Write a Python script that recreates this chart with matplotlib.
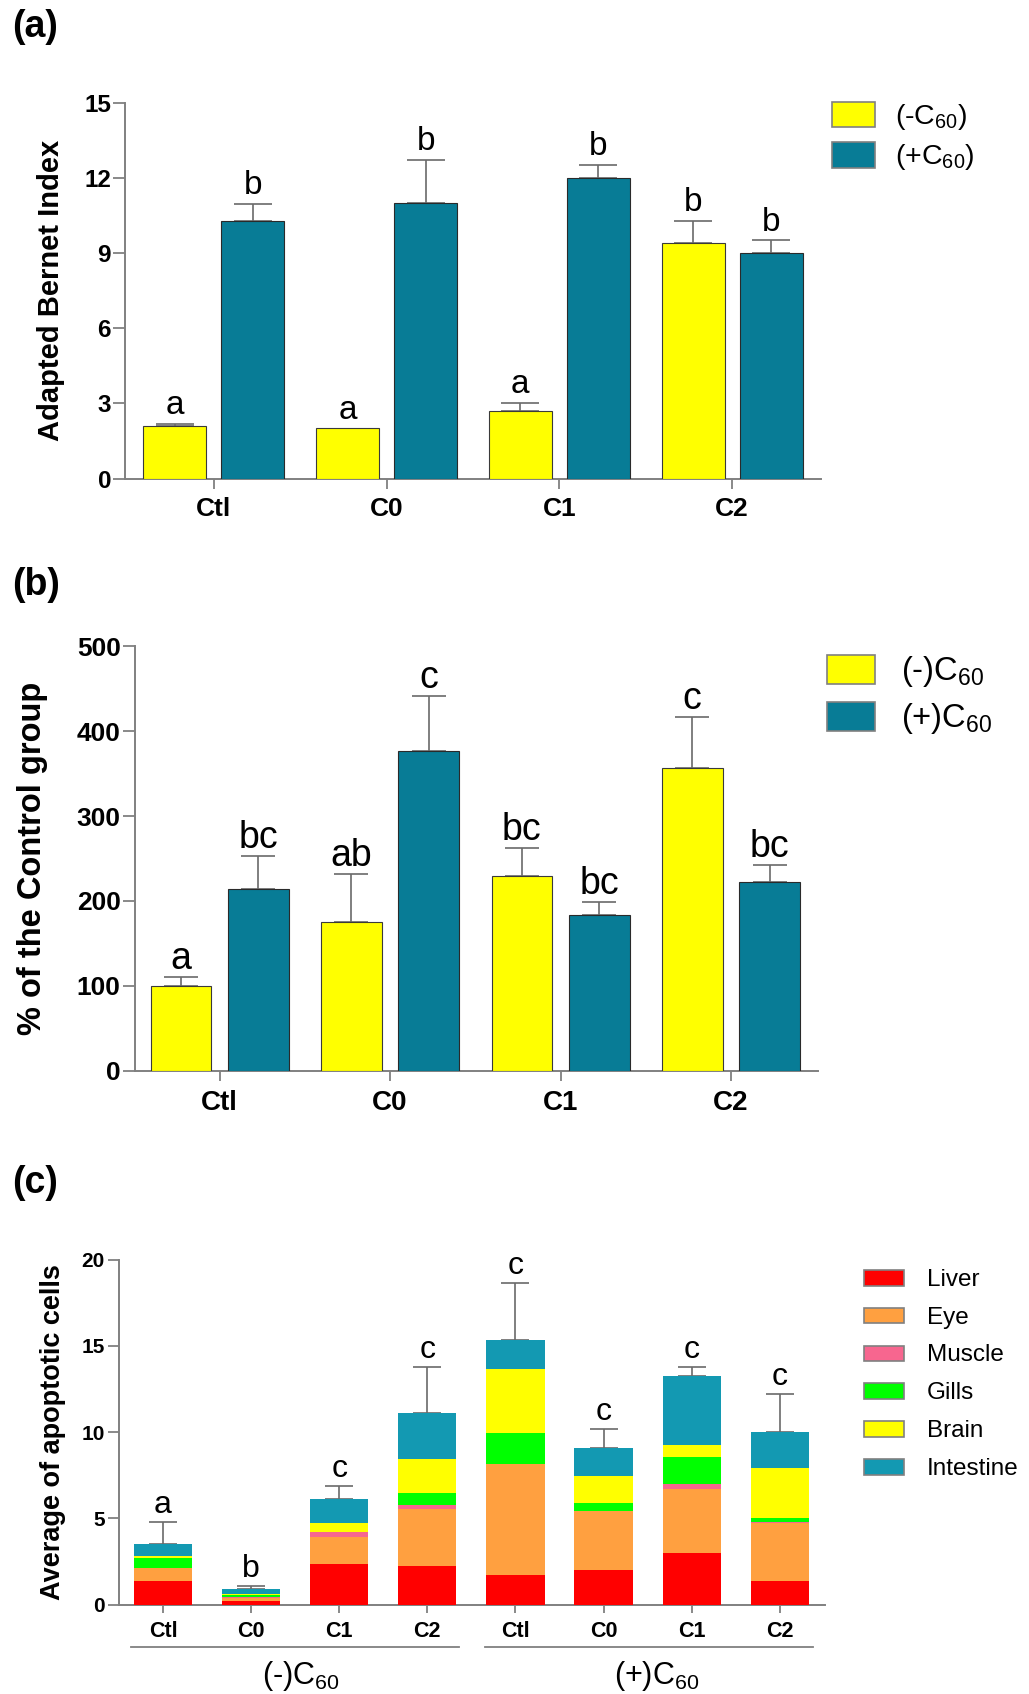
import numpy as np
import matplotlib
matplotlib.use("Agg")
import matplotlib.pyplot as plt
from matplotlib.patches import Rectangle

plt.rcParams['font.family'] = ['Liberation Sans', 'DejaVu Sans']
plt.rcParams['mathtext.fontset'] = 'custom'
plt.rcParams['mathtext.rm'] = 'Liberation Sans'
plt.rcParams['mathtext.it'] = 'Liberation Sans:italic'
plt.rcParams['mathtext.bf'] = 'Liberation Sans:bold'

# ---------------- data ----------------
groups = ['Ctl', 'C0', 'C1', 'C2']

# panel (a) Adapted Bernet Index
a_minus = [2.1, 2.0, 2.7, 9.4]
a_minus_err = [0.07, 0.0, 0.32, 0.88]
a_plus = [10.26, 11.0, 12.0, 9.0]
a_plus_err = [0.69, 1.73, 0.5, 0.5]
a_letters_minus = ['a', 'a', 'a', 'b']
a_letters_plus = ['b', 'b', 'b', 'b']

# panel (b) % of the Control group
b_minus = [100, 175, 230, 357]
b_minus_err = [11, 57, 33, 60]
b_plus = [214, 377, 183, 222]
b_plus_err = [39, 64, 16, 20]
b_letters_minus = ['a', 'ab', 'bc', 'c']
b_letters_plus = ['bc', 'c', 'bc', 'bc']

# panel (c) Average of apoptotic cells (stacked by tissue)
c_labels = ['Ctl', 'C0', 'C1', 'C2', 'Ctl', 'C0', 'C1', 'C2']
c_treat = ['(-)C$_{60}$', '(+)C$_{60}$']
liver = [1.35, 0.20, 2.32, 2.22, 1.70, 2.01, 3.01, 1.35]
eye = [0.79, 0.18, 1.58, 3.33, 6.42, 3.44, 3.68, 3.38]
muscle = [0.0, 0.05, 0.31, 0.23, 0.0, 0.0, 0.29, 0.06]
gills = [0.53, 0.10, 0.0, 0.67, 1.85, 0.44, 1.58, 0.23]
brain = [0.13, 0.10, 0.52, 1.99, 3.69, 1.57, 0.68, 2.88]
intestine = [0.72, 0.25, 1.40, 2.65, 1.66, 1.64, 4.00, 2.13]
c_err = [1.29, 0.22, 0.77, 2.71, 3.35, 1.10, 0.56, 2.20]
c_letters = ['a', 'b', 'c', 'c', 'c', 'c', 'c', 'c']
tissues = ['Liver', 'Eye', 'Muscle', 'Gills', 'Brain', 'Intestine']

# ---------------- style ----------------
YEL = '#FFFF00'
TEAL = '#087C96'
tissue_colors = ['#FF0000', '#FFA040', '#F7668F', '#00FF00', '#FFFF00', '#1399B2']
GRAY = '#808080'
ERRC = '#6A6A6A'

W, H = 1029, 1694
fig = plt.figure(figsize=(W / 100, H / 100), dpi=100)


def rect(l, r, t, b):
    return [l / W, 1 - b / H, (r - l) / W, (b - t) / H]


def style_axes(ax, ylab_size, xlab_size, ylen, xlen, ypad, xpad):
    for s in ['top', 'right']:
        ax.spines[s].set_visible(False)
    for s in ['left', 'bottom']:
        ax.spines[s].set_color(GRAY)
        ax.spines[s].set_linewidth(1.4)
    ax.tick_params(axis='y', direction='out', length=ylen, width=1.3, color=GRAY,
                   labelsize=ylab_size, pad=ypad)
    ax.tick_params(axis='x', direction='out', length=xlen, width=1.3, color=GRAY,
                   labelsize=xlab_size, pad=xpad)
    plt.setp(ax.get_yticklabels(), fontweight='bold')
    plt.setp(ax.get_xticklabels(), fontweight='bold')


def legend_box(x0, x1, y0, y1, color, text, tx, fs):
    fig.add_artist(Rectangle((x0 / W, 1 - y1 / H), (x1 - x0) / W, (y1 - y0) / H,
                             transform=fig.transFigure, facecolor=color,
                             edgecolor=GRAY, linewidth=1.2))
    fig.text(tx / W, 1 - ((y0 + y1) / 2 + 2) / H, text, fontsize=fs, ha='left', va='center')


def grouped(ax, minus, minus_err, plus, plus_err, lm, lp, off, width, cap, lfs, loff):
    x = np.arange(len(groups))
    ax.bar(x - off, minus, width, color=YEL, edgecolor='#3a3a3a', linewidth=0.8, zorder=3)
    ax.bar(x + off, plus, width, color=TEAL, edgecolor='#2a2a2a', linewidth=0.8, zorder=3)
    for xs, v, e in [(x - off, minus, minus_err), (x + off, plus, plus_err)]:
        v = np.asarray(v, float)
        e = np.asarray(e, float)
        m = e > 0
        ax.errorbar(xs[m], v[m], yerr=[np.zeros(m.sum()), e[m]], fmt='none', ecolor=ERRC,
                    elinewidth=1.2, capsize=cap, capthick=1.2, zorder=2)
    for xs, v, e, labs in [(x - off, minus, minus_err, lm), (x + off, plus, plus_err, lp)]:
        for xi, vi, ei, l in zip(xs, v, e, labs):
            ax.annotate(l, (xi, vi + ei), xytext=(0, loff), textcoords='offset points',
                        ha='center', va='bottom', fontsize=lfs)
    ax.set_xticks(x)
    ax.set_xticklabels(groups)


# ---------------- panel (a) ----------------
axa = fig.add_axes(rect(125, 821, 102.6, 478.6))
grouped(axa, a_minus, a_minus_err, a_plus, a_plus_err, a_letters_minus, a_letters_plus,
        off=0.226, width=0.365, cap=14, lfs=24, loff=2)
axa.set_xlim(-0.515, 3.515)
axa.set_ylim(0, 15)
axa.set_yticks(np.arange(0, 16, 3))
style_axes(axa, 17.5, 19, 8.5, 7, 1.5, 6)
axa.set_ylabel('Adapted Bernet Index', fontsize=21, fontweight='bold', va='center')
axa.yaxis.set_label_coords(-0.106, 0.5)
fig.text(12 / W, 1 - 27 / H, '(a)', fontsize=27, fontweight='bold', ha='left', va='center')
legend_box(832, 875, 101.6, 127.4, YEL, '(-C$_{60}$)', 895, 20.5)
legend_box(832, 875, 142, 168, TEAL, '(+C$_{60}$)', 895, 20.5)

# ---------------- panel (b) ----------------
axb = fig.add_axes(rect(135.2, 818, 646.4, 1070.7))
grouped(axb, b_minus, b_minus_err, b_plus, b_plus_err, b_letters_minus, b_letters_plus,
        off=0.227, width=0.356, cap=12.5, lfs=27, loff=0)
axb.set_xlim(-0.496, 3.511)
axb.set_ylim(0, 500)
axb.set_yticks(np.arange(0, 501, 100))
style_axes(axb, 19, 20, 8.5, 7, 2, 7)
axb.set_ylabel('% of the Control group', fontsize=23.5, fontweight='bold', va='center')
axb.yaxis.set_label_coords(-0.1497, 0.5)
fig.text(12 / W, 1 - 585 / H, '(b)', fontsize=27, fontweight='bold', ha='left', va='center')
legend_box(827, 875, 655, 684, YEL, '(-)C$_{60}$', 901, 23.5)
legend_box(827, 875, 702, 731, TEAL, '(+)C$_{60}$', 901, 23.5)

# ---------------- panel (c) ----------------
axc = fig.add_axes(rect(118.7, 824.5, 1259.6, 1604.5))
xc = np.arange(len(c_labels))
bottom = np.zeros(len(c_labels))
for name, vals, col in zip(tissues, [liver, eye, muscle, gills, brain, intestine], tissue_colors):
    vals = np.asarray(vals, float)
    axc.bar(xc, vals, 0.66, bottom=bottom, color=col, edgecolor='none', label=name, zorder=3)
    bottom = bottom + vals
axc.errorbar(xc, bottom, yerr=[np.zeros(len(xc)), c_err], fmt='none', ecolor=ERRC,
             elinewidth=1.2, capsize=10, capthick=1.2, zorder=2)
for xi, vi, ei, l in zip(xc, bottom, c_err, c_letters):
    axc.annotate(l, (xi, vi + ei), xytext=(0, 1), textcoords='offset points',
                 ha='center', va='bottom', fontsize=23)
axc.set_xticks(xc)
axc.set_xticklabels(c_labels)
axc.set_xlim(-0.503, 7.508)
axc.set_ylim(0, 20)
axc.set_yticks(np.arange(0, 21, 5))
style_axes(axc, 15, 15.5, 8, 6, 2, 6)
axc.set_ylabel('Average of apoptotic cells', fontsize=19.5, fontweight='bold', va='center')
axc.yaxis.set_label_coords(-0.0931, 0.5)
tr = axc.get_xaxis_transform()
for (x0, x1), lab, xm in zip([(-0.358, 3.354), (3.655, 7.378)], c_treat, [1.56, 5.6]):
    axc.plot([x0, x1], [-0.1224, -0.1224], color=GRAY, lw=1.3, transform=tr, clip_on=False)
    axc.text(xm, -0.207, lab, transform=tr, ha='center', va='center', fontsize=22)
fig.text(12 / W, 1 - 1183 / H, '(c)', fontsize=27, fontweight='bold', ha='left', va='center')
ly = [1270, 1307.8, 1345.6, 1383.4, 1421.2, 1459]
for name, col, y0 in zip(tissues, tissue_colors, ly):
    legend_box(864, 904, y0, y0 + 15.5, col, name, 927, 17.5)

fig.savefig('out.png', dpi=100)
